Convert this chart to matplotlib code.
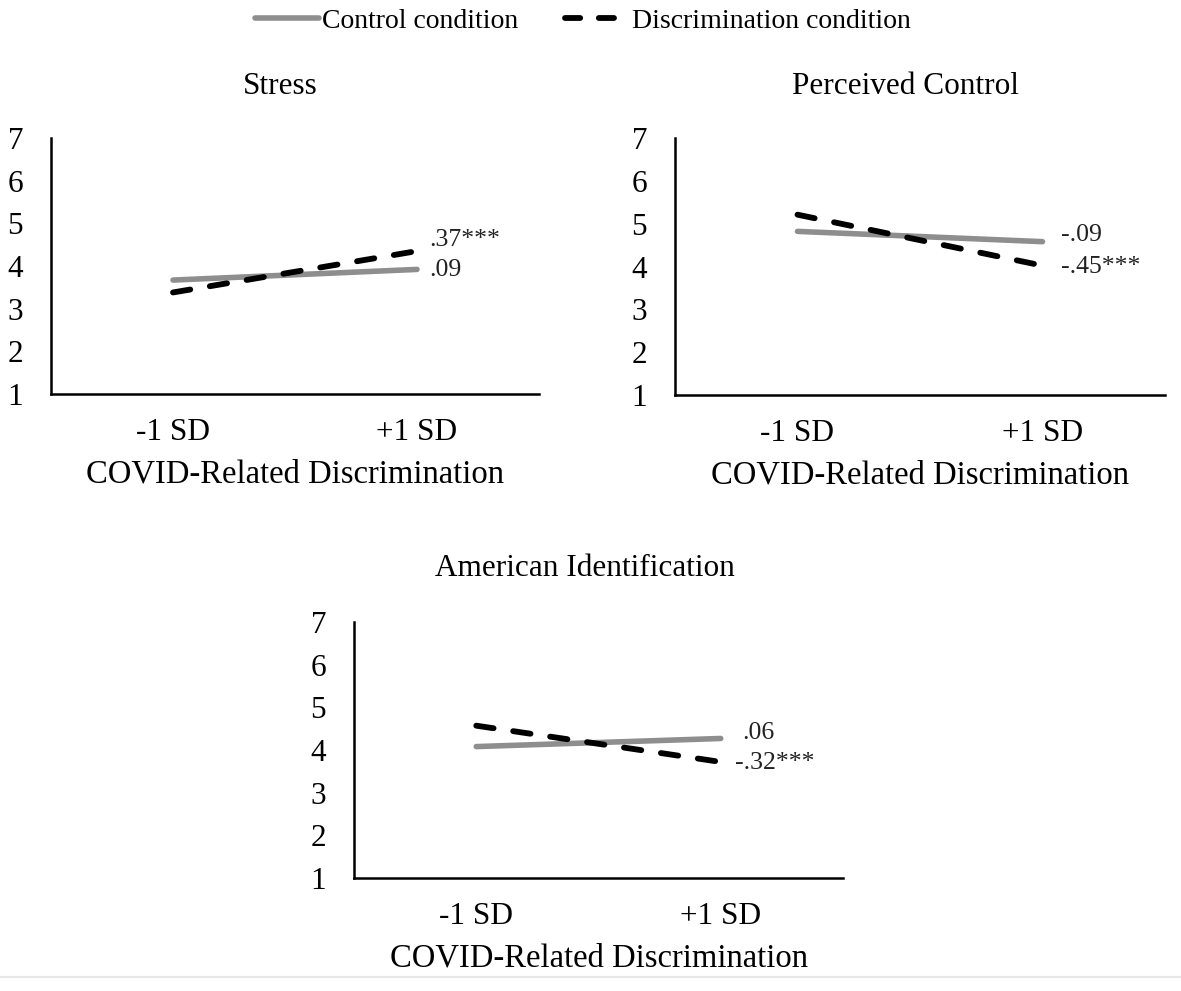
import matplotlib
matplotlib.use("Agg")
import matplotlib.pyplot as plt
from matplotlib.lines import Line2D

plt.rcParams['font.family'] = ['Liberation Serif', 'DejaVu Serif']

# data
levels = ['-1 SD', '+1 SD']
panels = ['Stress', 'Perceived Control', 'American Identification']
control = [[3.67, 3.92], [4.82, 4.58], [4.08, 4.27]]
discrim = [[3.38, 4.35], [5.21, 4.02], [4.57, 3.72]]
control_slopes = ['.09', '-.09', '.06']
discrim_slopes = ['.37***', '-.45***', '-.32***']
yticks = [1, 2, 3, 4, 5, 6, 7]

gray = '#8e8e8e'

fig = plt.figure(figsize=(11.81, 9.91), dpi=100)

# axes boxes [left, bottom, width, height] in figure fraction
boxes = [[51/1181, 1-394/991, 488/1181, 256/991],
         [675/1181, 1-395/991, 490/1181, 257/991],
         [354/1181, 1-878/991, 489/1181, 256/991]]
title_pos = [(280/1181, 1-86/991), (906/1181, 1-86/991), (585/1181, 1-568/991)]
# label positions (x offset from +1 SD in data units, y in data units)
ctrl_lab = [(0.05, 3.91), (0.075, 4.74), (0.088, 4.40)]
disc_lab = [(0.05, 4.61), (0.075, 3.99), (0.058, 3.70)]

for i, name in enumerate(panels):
    ax = fig.add_axes(boxes[i])
    x = range(len(levels))
    ax.plot(x, control[i], color=gray, lw=4, solid_capstyle='round')
    ax.plot(x, discrim[i], color='black', lw=4.2, dashes=(3, 3.4),
            dash_capstyle='round')
    ax.set_xlim(-0.5, 1.5)
    ax.set_ylim(1, 7)
    ax.set_yticks(yticks)
    ax.set_xticks(list(x))
    ax.set_xticklabels(levels)
    ax.tick_params(axis='y', length=0, pad=20, labelsize=22.5)
    ax.tick_params(axis='x', length=0, pad=17, labelsize=22.5)
    for s in ['top', 'right']:
        ax.spines[s].set_visible(False)
    for s in ['left', 'bottom']:
        ax.spines[s].set_linewidth(1.8)
    ax.set_xlabel('COVID-Related Discrimination', fontsize=23.5, labelpad=9)
    ax.text(1 + ctrl_lab[i][0], ctrl_lab[i][1], control_slopes[i],
            fontsize=18.5, ha='left', va='center', color='#222222')
    ax.text(1 + disc_lab[i][0], disc_lab[i][1], discrim_slopes[i],
            fontsize=18.5, ha='left', va='center', color='#222222')
    fig.text(title_pos[i][0], title_pos[i][1], name, fontsize=22.5,
             ha='center', va='center')

handles = [Line2D([], [], color=gray, lw=4, solid_capstyle='round'),
           Line2D([], [], color='black', lw=4.2, dashes=(2.6, 3.2),
                  dash_capstyle='round')]
fig.legend(handles, ['Control condition', 'Discrimination condition'],
           loc='center', bbox_to_anchor=(583/1181, 1-21/991), ncol=2,
           frameon=False, fontsize=20, handlelength=2.3, handletextpad=0.1,
           columnspacing=1.7, borderpad=0)

# faint rule near the bottom edge
fig.add_artist(Line2D([0, 1], [1-977/991, 1-977/991], color='#e6e6e6',
                      lw=1.5, transform=fig.transFigure))

fig.savefig('out.png', dpi=100)
